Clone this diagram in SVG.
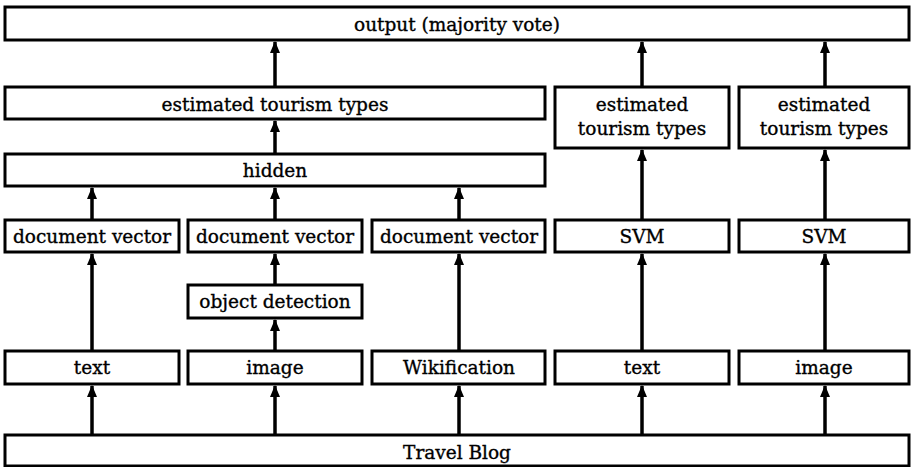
<svg xmlns="http://www.w3.org/2000/svg" width="912" height="467" viewBox="0 0 912 467">
<defs>
<style>
rect{fill:#fff;stroke:#000;stroke-width:3}
text{font-family:"DejaVu Serif",serif;font-size:18.5px;fill:#000;stroke:#000;stroke-width:0.35;text-anchor:middle}
.c line{stroke:#000;stroke-width:3.5}
</style>
<marker id="ah" viewBox="0 0 12 10" refX="11" refY="5" markerWidth="12" markerHeight="10" markerUnits="userSpaceOnUse" orient="auto">
<path d="M0,0 L12,5 L0,10 Z" fill="#000"/>
</marker>
</defs>
<rect x="0" y="0" width="912" height="467" style="fill:#fff;stroke:none"/>
<g id="output"><rect x="5" y="7" width="904" height="33"/><text x="457" y="31">output (majority vote)</text></g>
<g id="ett1"><rect x="5" y="87" width="540" height="32"/><text x="275" y="111">estimated tourism types</text></g>
<g id="ett2"><rect x="555" y="87" width="174" height="61"/><text x="642" y="111">estimated</text><text x="642" y="135">tourism types</text></g>
<g id="ett3"><rect x="739" y="87" width="170" height="61"/><text x="824" y="111">estimated</text><text x="824" y="135">tourism types</text></g>
<g id="hidden"><rect x="5" y="154" width="540" height="32"/><text x="275" y="177">hidden</text></g>
<g id="dv1"><rect x="5" y="220" width="174" height="32"/><text x="92" y="243">document vector</text></g>
<g id="dv2"><rect x="188" y="220" width="174" height="32"/><text x="275" y="243">document vector</text></g>
<g id="dv3"><rect x="372" y="220" width="173" height="32"/><text x="459" y="243">document vector</text></g>
<g id="svm1"><rect x="555" y="220" width="174" height="32"/><text x="642" y="243">SVM</text></g>
<g id="svm2"><rect x="739" y="220" width="170" height="32"/><text x="824" y="243">SVM</text></g>
<g id="objdet"><rect x="188" y="285" width="174" height="33"/><text x="275" y="308">object detection</text></g>
<g id="text1"><rect x="5" y="351" width="174" height="33"/><text x="92" y="374">text</text></g>
<g id="image1"><rect x="188" y="351" width="174" height="33"/><text x="275" y="374">image</text></g>
<g id="wiki"><rect x="372" y="351" width="173" height="33"/><text x="459" y="374">Wikification</text></g>
<g id="text2"><rect x="555" y="351" width="174" height="33"/><text x="642" y="374">text</text></g>
<g id="image2"><rect x="739" y="351" width="170" height="33"/><text x="824" y="374">image</text></g>
<g id="blog"><rect x="5" y="435" width="904" height="31"/><text x="457" y="459">Travel Blog</text></g>
<g class="c">
<line x1="275" y1="87" x2="275" y2="42" marker-end="url(#ah)"/>
<line x1="642" y1="87" x2="642" y2="42" marker-end="url(#ah)"/>
<line x1="825" y1="87" x2="825" y2="42" marker-end="url(#ah)"/>
<line x1="275" y1="154" x2="275" y2="121" marker-end="url(#ah)"/>
<line x1="642" y1="220" x2="642" y2="150" marker-end="url(#ah)"/>
<line x1="825" y1="220" x2="825" y2="150" marker-end="url(#ah)"/>
<line x1="92" y1="220" x2="92" y2="188" marker-end="url(#ah)"/>
<line x1="275" y1="220" x2="275" y2="188" marker-end="url(#ah)"/>
<line x1="459" y1="220" x2="459" y2="188" marker-end="url(#ah)"/>
<line x1="92" y1="351" x2="92" y2="254" marker-end="url(#ah)"/>
<line x1="275" y1="285" x2="275" y2="254" marker-end="url(#ah)"/>
<line x1="275" y1="351" x2="275" y2="320" marker-end="url(#ah)"/>
<line x1="459" y1="351" x2="459" y2="254" marker-end="url(#ah)"/>
<line x1="642" y1="351" x2="642" y2="254" marker-end="url(#ah)"/>
<line x1="825" y1="351" x2="825" y2="254" marker-end="url(#ah)"/>
<line x1="92" y1="435" x2="92" y2="386" marker-end="url(#ah)"/>
<line x1="275" y1="435" x2="275" y2="386" marker-end="url(#ah)"/>
<line x1="459" y1="435" x2="459" y2="386" marker-end="url(#ah)"/>
<line x1="642" y1="435" x2="642" y2="386" marker-end="url(#ah)"/>
<line x1="825" y1="435" x2="825" y2="386" marker-end="url(#ah)"/>
</g>
</svg>
